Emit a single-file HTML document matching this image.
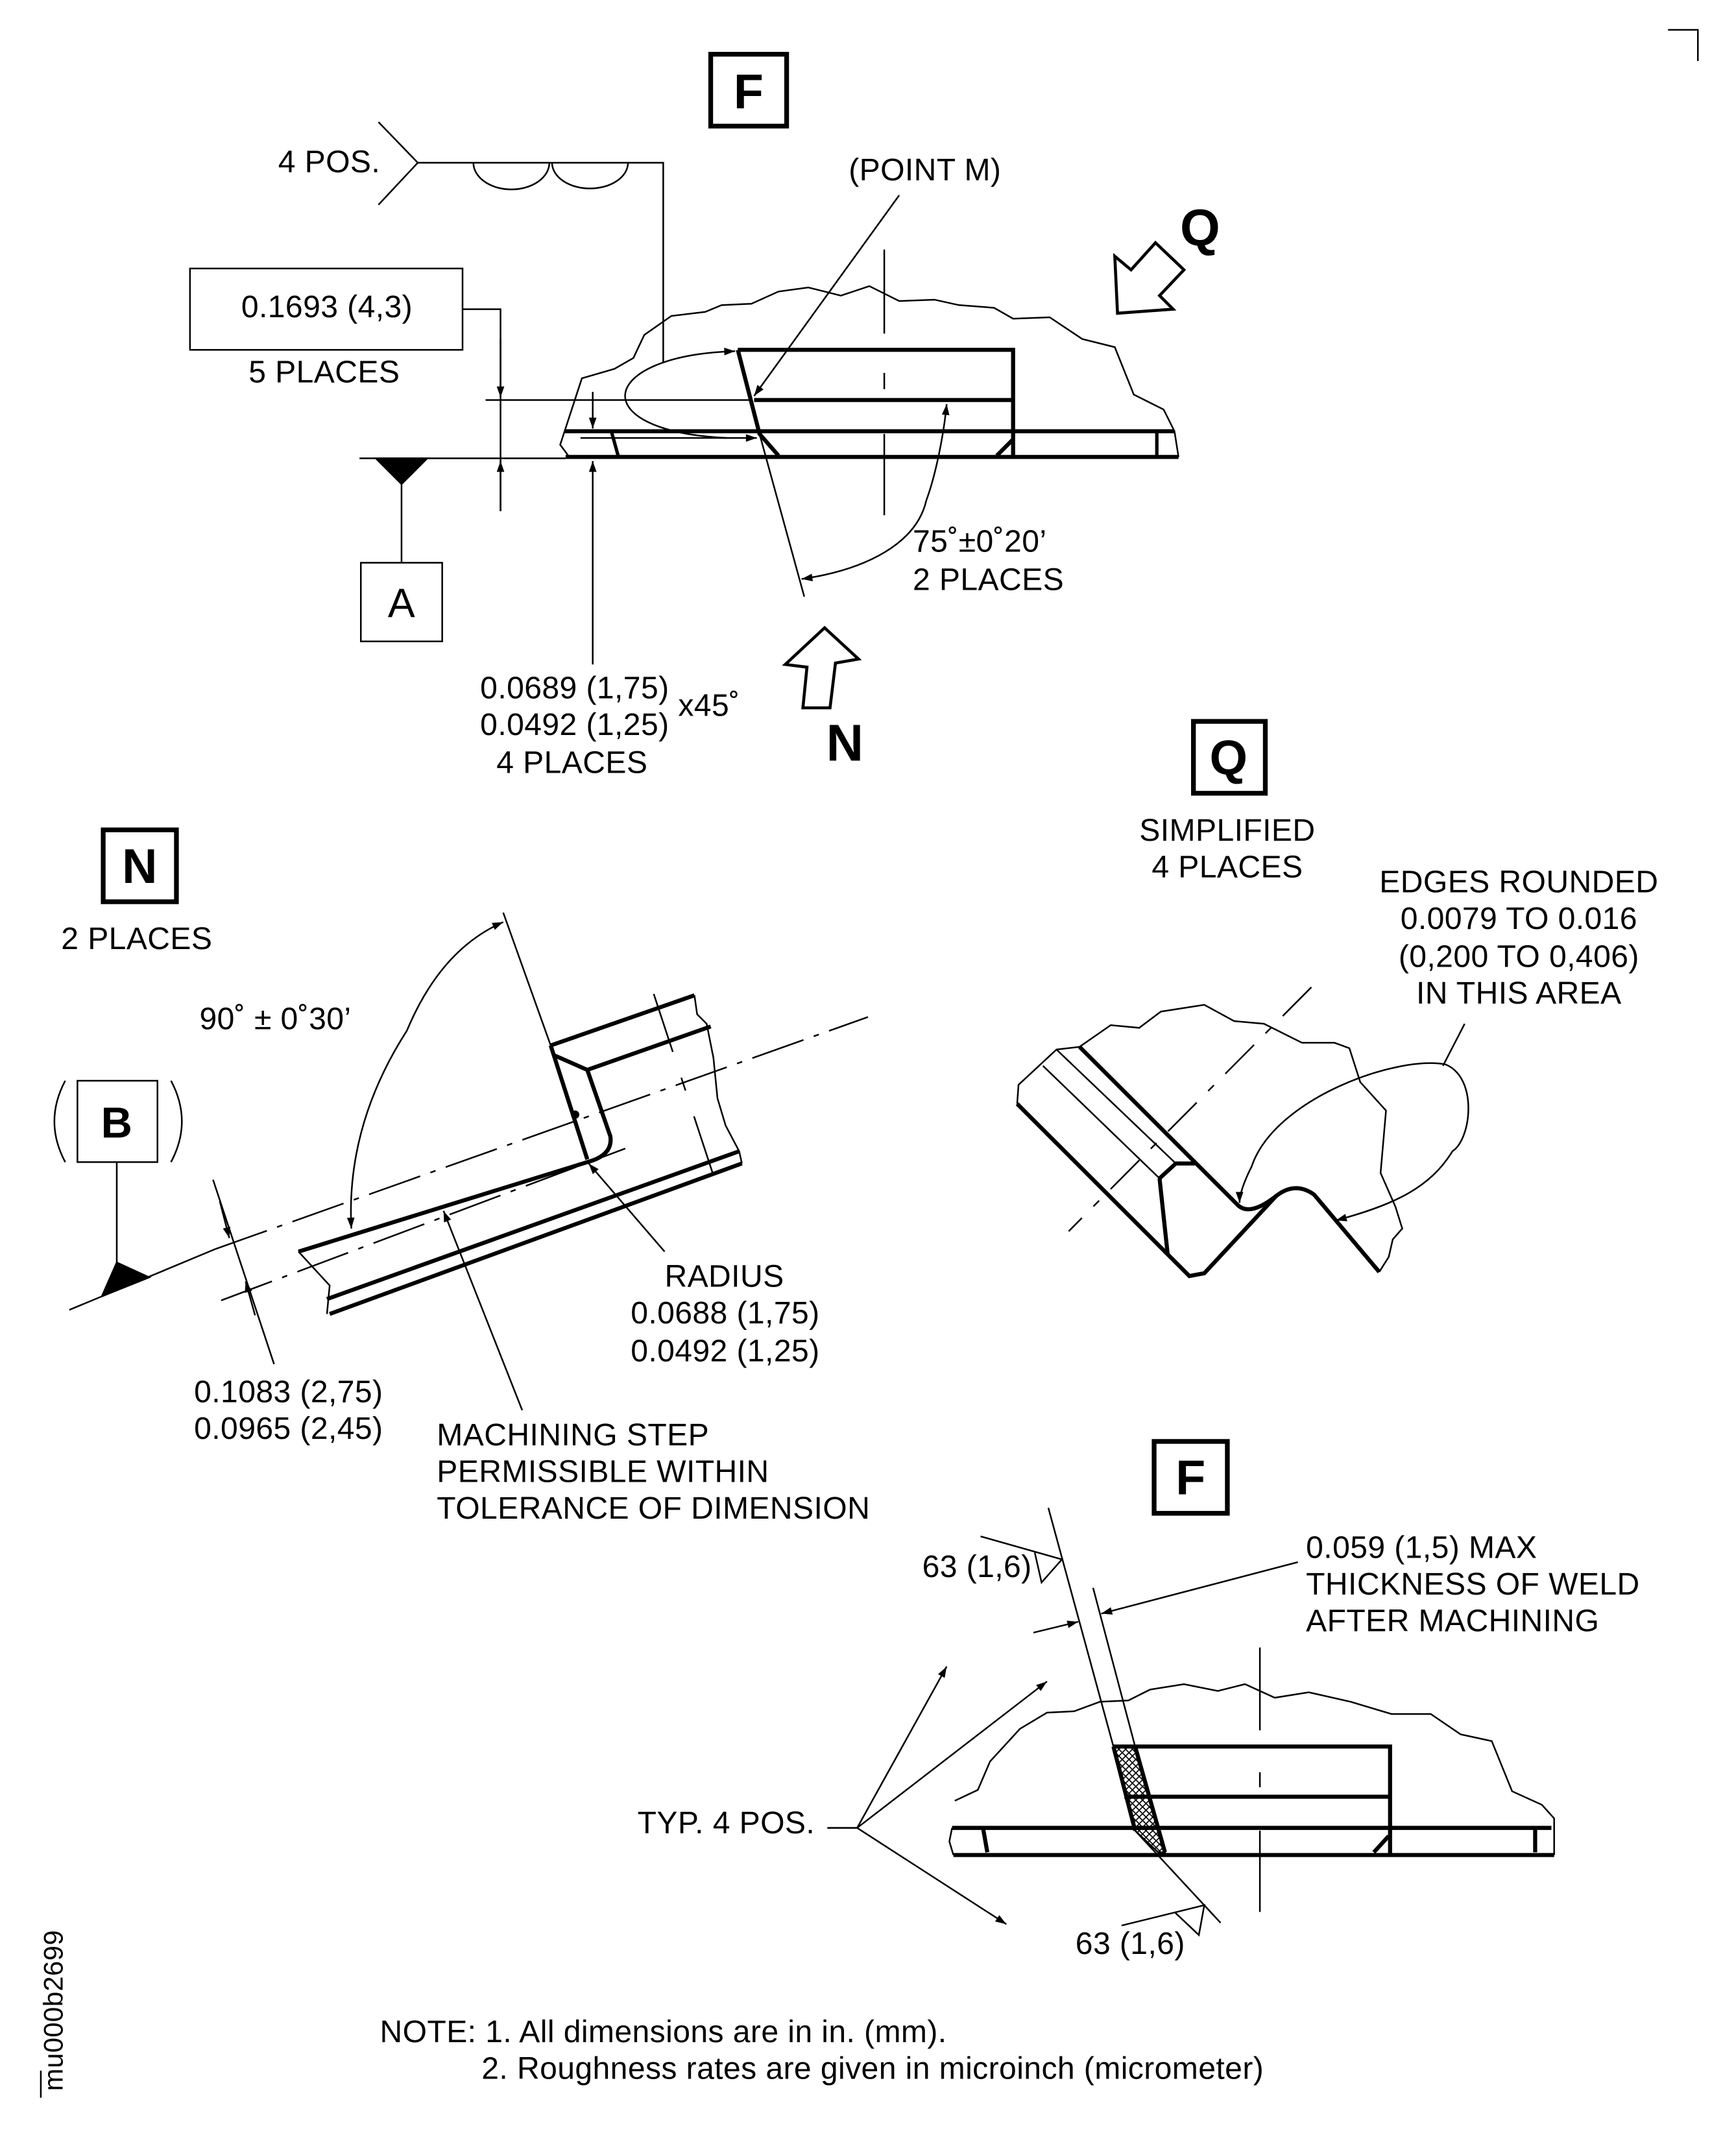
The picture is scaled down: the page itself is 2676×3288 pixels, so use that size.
<!DOCTYPE html>
<html><head><meta charset="utf-8"><style>
html,body{margin:0;padding:0;background:#fff}
svg{display:block}
text{font-family:"Liberation Sans",sans-serif;font-size:23px;letter-spacing:0.2px;fill:#000}
</style></head><body>
<svg width="2676" height="3288" viewBox="0 0 1280 1573" xmlns="http://www.w3.org/2000/svg">
<defs>
<marker id="a" viewBox="0 0 10 10" refX="10" refY="5" markerWidth="16" markerHeight="8" markerUnits="userSpaceOnUse" orient="auto"><path d="M0,1.5 L10,5 L0,8.5 z" fill="#000"/></marker>
<pattern id="h" width="5" height="5" patternUnits="userSpaceOnUse"><path d="M0,0 L5,5 M5,0 L0,5" stroke="#000" stroke-width="0.8"/></pattern>
</defs>
<rect width="1280" height="1573" fill="#fff"/>
<g fill="none" stroke="#000" stroke-width="1.2">
<path d="M1230,22 H1252 V45"/>
<path d="M30,1527 V1547"/>

<!-- TOP F VIEW -->
<rect x="524" y="40" width="56" height="53" stroke-width="3.5"/>
<path d="M279,90 L308,120 L279,151 M308,120 H489 V267"/>
<path d="M349,120 A27,19 0 0 0 405,120 M407,120 A28,19 0 0 0 463,120"/>
<rect x="140" y="198" width="201" height="60"/>
<path d="M341,228 H369 V377"/>
<path d="M369,250 V293" marker-end="url(#a)"/>
<path d="M369,377 V340" marker-end="url(#a)"/>
<path d="M358,295 H554"/>
<path d="M265,338 H417"/>
<path d="M277,338 L315,338 L296,357 z" fill="#000"/>
<path d="M296,357 V415"/>
<rect x="266" y="415" width="60" height="58"/>
<path d="M419,336 L413,328 L429,279 L453,272 L467,264 L475,247 L495,233 L520,230 L532,225 L554,224 L574,215 L596,212 L620,218 L641,211 L663,222 L689,221 L707,225 L733,227 L747,235 L774,234 L798,250 L822,256 L836,291 L858,302 L866,318 L869,337"/>
<g stroke-width="3">
<path d="M416,318 H866 M417,337 H869"/>
<path d="M544,258 H747 V337 M556,295 H747"/>
<path d="M544,258 L560,320 L574,336"/>
<path d="M735,336 L747,324"/>
</g>
<path d="M451,319 L456,337 M853,319 V337" stroke-width="2.5"/>
<path d="M560,320 L593,440"/>
<path d="M652,184 V246 M652,275 V287 M652,320 V380"/>
<path d="M437,490 V340" marker-end="url(#a)"/>
<path d="M437,289 V316" marker-end="url(#a)"/>
<path d="M428,323 H558" marker-end="url(#a)"/>
<path d="M536,323 C430,318 440,262 542,259" marker-end="url(#a)"/>
<path d="M663,144 L556,292" marker-end="url(#a)"/>
<path d="M683,369 C676,400 640,420 591,427" marker-end="url(#a)"/>
<path d="M683,369 C690,350 696,320 698,298" marker-end="url(#a)"/>
<path d="M822,189 L834,199 L852,179 L873,199 L855,218 L865,228 L824,231 z" stroke-width="2.2"/>
<path d="M592,522 L595,492 L579,490 L608,463 L633,486 L616,489 L612,522 z" stroke-width="2.2"/>

<!-- N VIEW -->
<rect x="76" y="612" width="54" height="53" stroke-width="3.5"/>
<rect x="57" y="797" width="59" height="60"/>
<path d="M48,797 Q32,827 48,857 M126,797 Q142,827 126,857"/>
<path d="M86,857 V931"/>
<path d="M75,956 L86,931 L110,942 z" fill="#000"/>
<path d="M51,966 L159,921"/>
<path d="M159,921 L640,750" stroke-dasharray="40,8,4,8"/>
<path d="M163,959 L461,847" stroke-dasharray="40,8,4,8"/>
<path d="M371,673 L406,771"/>
<path d="M300,760 Q325,700 371,680" marker-end="url(#a)"/>
<path d="M300,760 Q255,830 259,906" marker-end="url(#a)"/>
<g stroke-width="3">
<path d="M406,771 L512,734 M433,789 L524,757"/>
<path d="M408,778 L433,789"/>
<path d="M406,771 L433,855"/>
<path d="M433,789 L450,838 Q452,852 433,857 L220,923"/>
<path d="M241,958 L545,849 M243,969 L547,858"/>
</g>
<path d="M220,923 L243,948 L241,969"/>
<path d="M512,734 L514,748 L521,755 L526,780 L529,810 L535,830 L545,849 L547,858"/>
<path d="M482,733 L531,882" stroke-dasharray="45,20,10,20"/>
<circle cx="424" cy="822" r="2.5" fill="#000"/>
<path d="M490,923 L434,858" marker-end="url(#a)"/>
<path d="M385,1040 L327,893" marker-end="url(#a)"/>
<path d="M157,870 L202,1006"/>
<path d="M162,886 L169,913" marker-end="url(#a)"/>
<path d="M188,970 L181,945" marker-end="url(#a)"/>

<!-- Q VIEW -->
<rect x="880" y="532" width="53" height="53" stroke-width="3.5"/>
<path d="M750,814 L751,800 L779,774 L796,772 L819,756 L840,758 L856,746 L888,741 L910,753 L932,755 L960,769 L984,769 L995,773 L1003,798 L1022,819 L1018,865 L1029,890 L1034,906 L1027,914 L1024,927 L1017,938"/>
<g stroke-width="3">
<path d="M750,814 L877,941 L888,939 L941,882 Q955,871 969,881 L1017,938"/>
<path d="M796,772 L913,889 Q922,897 941,882"/>
<path d="M855,869 L861,925 M855,869 L867,858 L881,858"/>
</g>
<path d="M779,774 L867,858 M769,786 L855,869"/>
<path d="M967,728 L788,908" stroke-dasharray="30,12,6,12"/>
<path d="M1080,755 L1064,786"/>
<path d="M1066,785 C1030,778 940,810 923,860 C918,870 914,880 914,887" marker-end="url(#a)"/>
<path d="M1066,785 C1090,795 1085,840 1071,849 C1055,875 1030,888 985,900" marker-end="url(#a)"/>

<!-- BOTTOM F VIEW -->
<rect x="851" y="1063" width="54" height="53" stroke-width="3.5"/>
<path d="M704,1328 L721,1320 L730,1299 L752,1275 L772,1263 L792,1262 L811,1255 L832,1254 L848,1246 L873,1242 L898,1247 L918,1242 L940,1252 L965,1248 L996,1255 L1026,1264 L1055,1264 L1077,1279 L1100,1284 L1115,1321 L1137,1331 L1146,1341 L1146,1368"/>
<path d="M702,1348 L700,1358 L703,1368"/>
<path d="M821,1288 L837,1288 L859,1366 L854,1366 L837,1350 z" fill="url(#h)"/>
<g stroke-width="3">
<path d="M702,1348 H1144 M703,1368 H1146"/>
<path d="M821,1288 H1025 V1368 M829,1325 H1025"/>
<path d="M821,1288 L837,1350 M837,1288 L859,1366"/>
<path d="M1013,1366 L1024,1354 M725,1349 L728,1366 M1132,1349 V1366"/>
</g>
<path d="M773,1112 L821,1288 M837,1350 L900,1418 M806,1171 L837,1288"/>
<path d="M929,1215 V1276 M929,1307 V1318 M929,1350 V1410"/>
<path d="M610,1348 H632 L698,1229" marker-end="url(#a)"/>
<path d="M632,1348 L772,1240" marker-end="url(#a)"/>
<path d="M632,1348 L742,1419" marker-end="url(#a)"/>
<path d="M723,1133 L783,1150 L768,1167 L763,1145"/>
<path d="M827,1420 L888,1405 L884,1427 L866,1410"/>
<path d="M957,1152 L812,1190" marker-end="url(#a)"/>
<path d="M762,1204 L795,1196" marker-end="url(#a)"/>
</g>

<g>
<text x="552" y="80" style="font-weight:bold;font-size:36px" text-anchor="middle">F</text>
<text x="205" y="127">4 POS.</text>
<text x="241" y="234" text-anchor="middle">0.1693 (4,3)</text>
<text x="239" y="282" text-anchor="middle">5 PLACES</text>
<text x="296" y="455" style="font-size:30px" text-anchor="middle">A</text>
<text x="682" y="133" text-anchor="middle">(POINT M)</text>
<text x="885" y="181" style="font-weight:bold;font-size:38px" text-anchor="middle">Q</text>
<text x="673" y="407">75˚±0˚20’</text>
<text x="673" y="435">2 PLACES</text>
<text x="354" y="515">0.0689 (1,75)</text>
<text x="354" y="542">0.0492 (1,25)</text>
<text x="500" y="528">x45˚</text>
<text x="366" y="570">4 PLACES</text>
<text x="623" y="561" style="font-weight:bold;font-size:38px" text-anchor="middle">N</text>

<text x="103" y="651" style="font-weight:bold;font-size:36px" text-anchor="middle">N</text>
<text x="45" y="700">2 PLACES</text>
<text x="147" y="759">90˚ ± 0˚30’</text>
<text x="86" y="839" style="font-weight:bold;font-size:32px" text-anchor="middle">B</text>
<text x="490" y="949">RADIUS</text>
<text x="465" y="976">0.0688 (1,75)</text>
<text x="465" y="1004">0.0492 (1,25)</text>
<text x="143" y="1034">0.1083 (2,75)</text>
<text x="143" y="1061">0.0965 (2,45)</text>
<text x="322" y="1066">MACHINING STEP</text>
<text x="322" y="1093">PERMISSIBLE WITHIN</text>
<text x="322" y="1120">TOLERANCE OF DIMENSION</text>

<text x="906" y="571" style="font-weight:bold;font-size:36px" text-anchor="middle">Q</text>
<text x="905" y="620" text-anchor="middle">SIMPLIFIED</text>
<text x="905" y="647" text-anchor="middle">4 PLACES</text>
<text x="1120" y="658" text-anchor="middle">EDGES ROUNDED</text>
<text x="1120" y="685" text-anchor="middle">0.0079 TO 0.016</text>
<text x="1120" y="713" text-anchor="middle">(0,200 TO 0,406)</text>
<text x="1120" y="740" text-anchor="middle">IN THIS AREA</text>

<text x="878" y="1102" style="font-weight:bold;font-size:36px" text-anchor="middle">F</text>
<text x="680" y="1163">63 (1,6)</text>
<text x="963" y="1149">0.059 (1,5) MAX</text>
<text x="963" y="1176">THICKNESS OF WELD</text>
<text x="963" y="1203">AFTER MACHINING</text>
<text x="470" y="1352">TYP. 4 POS.</text>
<text x="793" y="1441">63 (1,6)</text>

<text x="280" y="1506">NOTE: 1. All dimensions are in in. (mm).</text>
<text x="355" y="1533">2. Roughness rates are given in microinch (micrometer)</text>
<text transform="translate(46,1542) rotate(-90)" style="font-size:20px">mu000b2699</text>
</g>
</svg>
</body></html>
